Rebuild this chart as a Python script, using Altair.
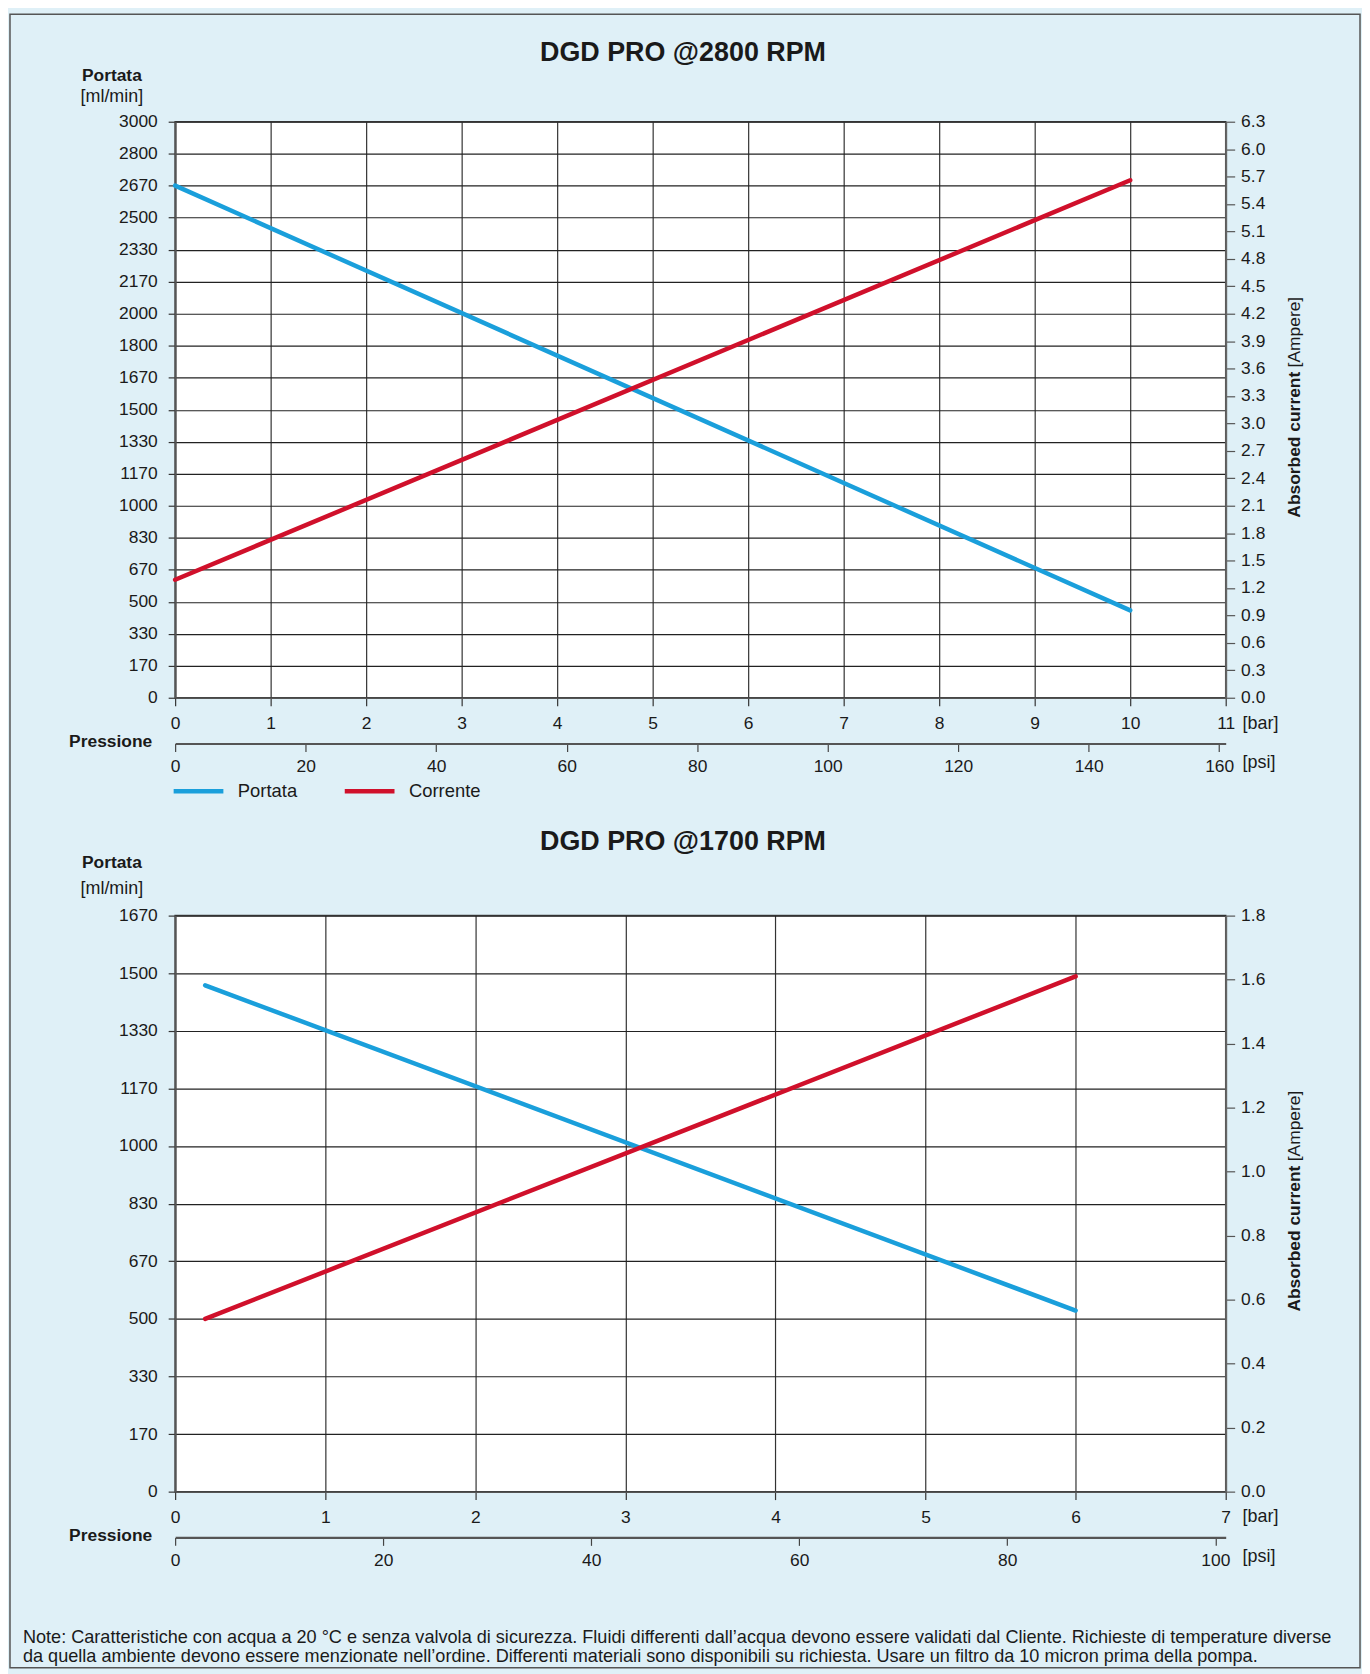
import altair as alt
import pandas as pd

# ---------------- data ----------------
series_names = ["Portata", "Corrente"]

# top chart (2800 RPM)
top_bar_ticks = list(range(0, 12))
top_psi_ticks = [0, 20, 40, 60, 80, 100, 120, 140, 160]
top_flow_labels = ["0", "170", "330", "500", "670", "830", "1000", "1170", "1330", "1500",
                   "1670", "1800", "2000", "2170", "2330", "2500", "2670", "2800", "3000"]
top_amp_ticks = [0.0, 0.3, 0.6, 0.9, 1.2, 1.5, 1.8, 2.1, 2.4, 2.7, 3.0, 3.3, 3.6, 3.9,
                 4.2, 4.5, 4.8, 5.1, 5.4, 5.7, 6.0, 6.3]
top_portata_bar = [0, 10]
top_portata_flow = [2667, 455]
top_corrente_bar = [0, 10]
top_corrente_amp = [1.29, 5.66]

# bottom chart (1700 RPM)
bot_bar_ticks = list(range(0, 8))
bot_psi_ticks = [0, 20, 40, 60, 80, 100]
bot_flow_labels = ["0", "170", "330", "500", "670", "830", "1000", "1170", "1330", "1500", "1670"]
bot_amp_ticks = [0.0, 0.2, 0.4, 0.6, 0.8, 1.0, 1.2, 1.4, 1.6, 1.8]
bot_portata_bar = [0.2, 6]
bot_portata_flow = [1465, 524]
bot_corrente_bar = [0.2, 6]
bot_corrente_amp = [0.54, 1.61]

note_lines = [
    "Note: Caratteristiche con acqua a 20 °C e senza valvola di sicurezza. Fluidi differenti dall\u2019acqua devono essere validati dal Cliente. Richieste di temperature diverse",
    "da quella ambiente devono essere menzionate nell\u2019ordine. Differenti materiali sono disponibili su richiesta. Usare un filtro da 10 micron prima della pompa.",
]

# ---------------- style ----------------
BLUE = "#1a9fdb"
RED = "#d0102b"
BG = "#dff0f7"
REG = "Liberation Sans, Arial, Helvetica, sans-serif"
TXT = "#1a1a1a"
W, H = 1056, 579


def txt(text, x, y, size, weight="normal", font=REG, align="center", angle=0):
    return alt.Chart(pd.DataFrame({"t": [text]})).mark_text(
        fontSize=size, fontWeight=weight, font=font, align=align,
        baseline="middle", angle=angle, color=TXT
    ).encode(x=alt.value(x), y=alt.value(y), text="t:N")


def panel(title, title_y, portata_y, unit_y, bar_ticks, psi_ticks, psi_max, flow_labels, flow_max,
          amp_ticks, amp_max, p_bar, p_flow, c_bar, c_amp, extra_layers=()):
    n = len(flow_labels) - 1
    step = flow_max / n
    flow_vals = [flow_max * i / n for i in range(n + 1)]
    label_expr = "[" + ",".join("'%s'" % l for l in flow_labels) + "][round(datum.value/%r)]" % step
    bar_max = bar_ticks[-1]

    color = alt.Color("series:N",
                      scale=alt.Scale(domain=series_names, range=[BLUE, RED]),
                      legend=alt.Legend(title=None, orient="none", legendX=-4, legendY=H + 66.5,
                                        direction="horizontal", symbolType="stroke",
                                        symbolStrokeWidth=4.5, symbolSize=2500,
                                        labelFont=REG, labelFontSize=18.5, labelColor=TXT,
                                        labelOffset=12, columnPadding=38, padding=0))

    xbar_scale = alt.Scale(domain=[0, bar_max], nice=False, zero=True)

    portata_df = pd.DataFrame({"bar": p_bar, "flow": p_flow, "series": "Portata"})
    corrente_df = pd.DataFrame({"bar": c_bar, "amp": c_amp, "series": "Corrente"})
    psi_df = pd.DataFrame({"psi": psi_ticks})

    portata = alt.Chart(portata_df).mark_line(strokeWidth=4.5, strokeCap="round").encode(
        x=alt.X("bar:Q", scale=xbar_scale,
                axis=alt.Axis(orient="bottom", values=bar_ticks, format="d", title=None,
                              grid=True, gridColor="#333", gridWidth=1.2,
                              domain=True, domainColor="#555", domainWidth=1.5,
                              ticks=True, tickSize=8, tickColor="#333", tickWidth=1.2,
                              labelFont=REG, labelFontSize=17.5, labelColor=TXT,
                              labelPadding=9, labelFlush=False)),
        y=alt.Y("flow:Q", scale=alt.Scale(domain=[0, flow_max], nice=False, zero=True),
                axis=alt.Axis(orient="left", values=flow_vals, labelExpr=label_expr, title=None,
                              grid=True, gridColor="#222", gridWidth=1.2,
                              domain=True, domainColor="#555", domainWidth=2,
                              ticks=True, tickSize=7, tickColor="#333", tickWidth=1.2,
                              labelFont=REG, labelFontSize=17.5, labelColor=TXT,
                              labelPadding=11, labelFlush=False)),
        color=color,
    )

    corrente = alt.Chart(corrente_df).mark_line(strokeWidth=4.5, strokeCap="round").encode(
        x=alt.X("bar:Q", scale=xbar_scale, axis=None),
        y=alt.Y("amp:Q", scale=alt.Scale(domain=[0, amp_max], nice=False, zero=True),
                axis=alt.Axis(orient="right", values=amp_ticks, format=".1f", title=None,
                              grid=False, domain=True, domainColor="#666", domainWidth=2,
                              ticks=True, tickSize=9, tickColor="#555", tickWidth=1.2,
                              labelFont=REG, labelFontSize=17.5, labelColor=TXT,
                              labelPadding=6, labelFlush=False)),
        color=color,
    )

    psi = alt.Chart(psi_df).mark_point(opacity=0).encode(
        x=alt.X("psi:Q", scale=alt.Scale(domain=[0, psi_max], nice=False, zero=True),
                axis=alt.Axis(orient="bottom", offset=46, values=psi_ticks, format="d", title=None,
                              grid=False, domain=True, domainColor="#555", domainWidth=2.2,
                              ticks=True, tickSize=8, tickColor="#444", tickWidth=1.2,
                              labelFont=REG, labelFontSize=17.5, labelColor=TXT,
                              labelPadding=6, labelFlush=False))
    )

    texts = [
        txt(title, 510.5, title_y, 27, weight="bold"),
        txt("Portata", -63.6, portata_y, 17.5, weight="bold"),
        txt("[ml/min]", -63.6, unit_y, 18),
        txt("Pressione", -23, H + 45, 17.5, weight="bold", align="right"),
        txt("[bar]", 1073, H + 26, 18, align="left"),
        txt("[psi]", 1073, H + 66, 18, align="left"),
        txt("Absorbed current", 1126, 398, 17.5, weight="bold", align="left", angle=270),
        txt("[Ampere]", 1126, 176, 17.5, align="right", angle=270),
    ]

    layers = [portata, corrente, psi] + texts + list(extra_layers)
    return alt.layer(*layers).resolve_scale(x="independent", y="independent").properties(
        width=W, height=H)


top = panel("DGD PRO @2800 RPM", -69.5, -45.5, -25, top_bar_ticks, top_psi_ticks, 161,
            top_flow_labels, 3000, top_amp_ticks, 6.3,
            top_portata_bar, top_portata_flow, top_corrente_bar, top_corrente_amp)

frame = alt.Chart(pd.DataFrame({"a": [0]})).mark_rect(
    fillOpacity=0, stroke="#555", strokeWidth=1.5
).encode(x=alt.value(-166), x2=alt.value(1191), y=alt.value(-906), y2=alt.value(756))

notes = [txt(note_lines[0], -153, 726, 18.2, align="left"),
         txt(note_lines[1], -153, 745, 18.2, align="left")]

bottom = panel("DGD PRO @1700 RPM", -74, -53, -27, bot_bar_ticks, bot_psi_ticks, 101,
               bot_flow_labels, 5000 / 3, bot_amp_ticks, 1.8,
               bot_portata_bar, bot_portata_flow, bot_corrente_bar, bot_corrente_amp,
               extra_layers=notes + [frame])

chart = alt.vconcat(top, bottom, spacing=219, bounds="flush").properties(
    padding={"left": 0, "top": 0, "right": 0, "bottom": 0},
    background=BG,
).configure_view(fill="white", stroke="#444", strokeWidth=1.5)

chart.save("out.html", embed_options={"renderer": "svg", "actions": False})
